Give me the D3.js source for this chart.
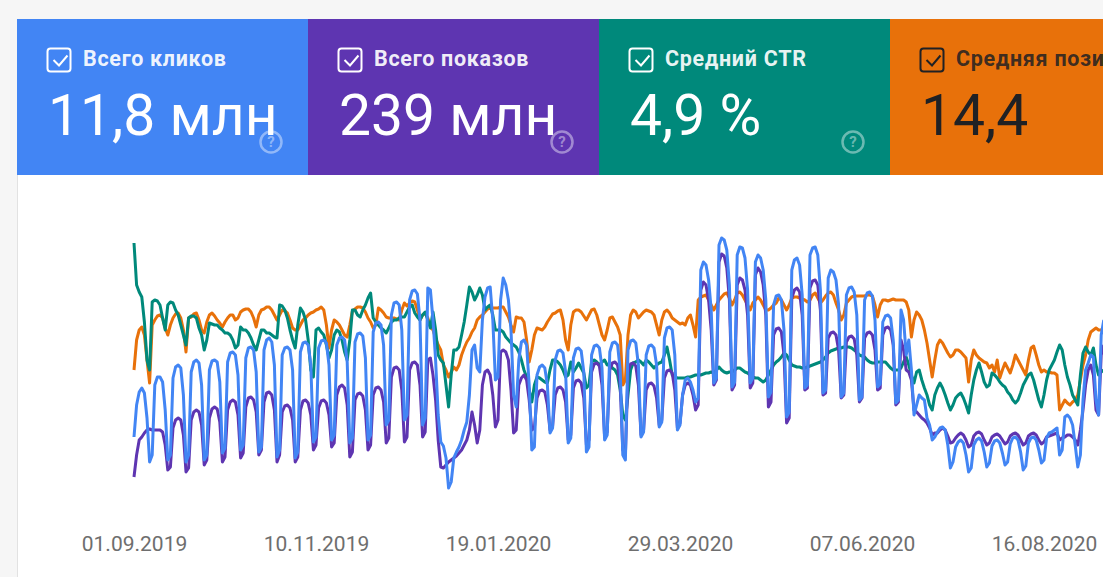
<!DOCTYPE html>
<html>
<head>
<meta charset="utf-8">
<script src="https://cdn.jsdelivr.net/npm/d3@7"></script>
<style>
    html, body { margin: 0; padding: 0; background: #f6f6f6; overflow: hidden; }
    svg { display: block; font-family: Roboto, "Noto Sans", sans-serif; }
</style>
</head>
<body>
<svg id="chart" width="1103" height="577"></svg>
<script>
// one value per day, starting 01.09.2019
var startDate = '2019-09-01';

// clicks, hundreds per day
var clicks = [283,
    315,328,332,327,302,258,265, 335,343,343,338,310,260,265, 342,353,355,352,325,258,265, 348,358,360,357,335,260,265,
    350,359,360,358,338,267,272, 358,367,368,365,345,270,275, 362,372,373,370,348,268,273, 370,380,382,378,355,263,270,
    365,372,373,370,350,262,268, 368,377,378,375,355,278,283, 372,379,380,377,355,280,285, 375,382,383,380,358,277,282,
    378,386,387,384,362,280,285, 388,397,398,395,375,295,300, 405,417,418,415,390,300,305, 420,429,430,426,400,295,302,
    432,430,400,360,305,278,274, 262,232,238,262,268,273,280, 290,298,325,370,375,352,348, 400,423,432,433,400,340,343,
    420,442,435,420,390,325,313, 360,378,380,375,335,270,273, 345,353,355,352,335,287,292, 360,369,370,367,348,277,282,
    362,371,372,369,348,268,273, 365,374,375,372,352,280,285, 368,377,378,375,350,265,260, 370,379,380,377,355,283,288,
    365,374,375,372,355,293,298, 382,392,393,390,365,290,295, 325,340,342,338,330,318,322, 450,458,455,440,410,337,342,
    475,482,480,470,435,333,338, 465,473,472,462,430,337,342, 458,465,462,450,420,323,328, 415,424,425,420,390,303,308,
    450,460,462,455,425,332,335, 465,472,473,465,430,327,330, 442,450,448,440,415,323,327, 425,432,433,428,405,320,323,
    420,427,428,424,400,333,336, 398,404,405,402,380,317,320, 410,400,365,380,350,305,315, 325,322,320,302,295,280,283,
    288,292,293,290,275,252,258, 273,278,280,277,265,248,252, 275,280,282,279,268,253,257, 274,279,280,277,267,255,258,
    276,282,283,280,268,250,254, 277,282,283,280,270,257,260, 282,287,288,290,292,265,270, 303,305,302,295,275,253,265,
    320,350,357,365,363,320,305, 385,400];

// impressions, thousands per day
var impressions = [579,
    601,616,619,623,626,627,626, 626,626,626,624,611,586,589, 628,636,638,636,621,584,588, 636,644,646,644,631,591,596,
    638,647,649,647,634,594,599, 646,654,656,654,641,598,603, 649,658,659,656,644,601,606, 654,663,664,661,646,594,601,
    644,650,651,648,636,594,599, 646,655,656,653,641,606,611, 648,655,656,653,641,609,613, 661,669,671,668,651,599,604,
    656,662,663,660,646,606,611, 661,668,669,666,654,613,618, 679,688,689,686,666,614,619, 686,693,694,691,671,619,624,
    696,698,681,656,616,589,588, 591,594,596,598,600,603,606, 611,616,626,644,631,613,626, 671,684,686,681,661,629,636,
    704,706,704,696,666,623,626, 671,678,681,676,656,626,628, 658,665,666,664,651,626,630, 661,668,669,666,654,616,621,
    668,675,676,673,658,611,616, 684,692,693,690,671,619,624, 686,693,694,691,671,606,601, 684,692,693,690,671,621,626,
    666,672,673,670,658,631,636, 678,685,686,683,666,628,633, 661,671,673,671,661,646,651, 766,774,771,756,726,671,676,
    794,802,800,788,756,666,671, 771,778,776,766,741,668,673, 781,788,784,771,741,649,654, 721,727,728,724,701,633,638,
    758,766,768,764,741,666,668, 768,775,776,771,746,661,663, 718,723,724,721,706,658,661, 714,719,720,717,701,654,658,
    718,723,724,721,706,666,668, 721,728,729,726,711,651,654, 716,706,686,684,676,646,644, 641,638,636,633,628,621,623,
    623,626,628,626,620,613,614, 618,621,623,621,616,609,611, 620,623,624,622,616,611,613, 619,621,622,620,616,612,614,
    620,622,623,621,616,611,613, 620,622,623,621,616,612,614, 619,620,621,622,623,616,618, 619,621,621,619,616,611,626,
    646,671,686,691,681,646,641, 701,711];

// CTR, %
var ctr = [7.14,
    6.30,6.16,6.06,5.56,4.80,4.60,5.96, 6.00,5.98,5.90,5.64,5.40,5.90,5.96, 5.94,5.80,5.70,5.50,5.30,5.10,5.64,
    5.68,5.68,5.64,5.44,5.30,5.00,5.20, 5.54,5.52,5.50,5.50,5.44,5.40,5.34, 5.34,5.30,5.20,5.04,5.10,5.46,5.40,
    5.40,5.34,5.24,5.10,5.00,5.20,5.40, 5.40,5.34,5.34,5.30,5.26,5.24,5.90, 5.88,5.80,5.64,5.40,5.20,5.04,5.50,
    5.84,5.76,5.60,5.20,4.60,4.46,5.40, 5.44,5.36,5.30,5.10,4.84,5.00,5.30, 5.40,5.36,5.20,4.96,4.80,5.20,5.80,
    5.80,5.70,5.66,5.80,5.90,6.04,6.14, 5.64,5.56,5.50,5.44,5.40,5.34,5.44, 5.56,5.60,5.60,5.64,5.66,5.66,5.76,
    5.86,5.90,5.74,5.66,5.60,5.70,5.76, 5.60,5.44,5.76,5.40,4.90,4.80,4.74, 4.30,3.86,4.50,5.00,5.00,5.06,5.30,
    5.56,5.90,6.26,6.16,6.00,6.10,6.24, 6.10,5.80,5.86,5.90,5.70,5.40,5.40, 5.40,5.36,5.26,5.20,5.14,5.10,5.06,
    4.96,4.80,4.60,4.46,4.20,3.96,4.30, 4.46,4.44,4.40,4.36,4.34,4.60,4.80, 4.80,4.76,4.70,4.60,4.46,4.50,4.76,
    4.56,4.64,4.74,4.64,4.54,4.24,4.30, 4.76,4.80,4.76,4.70,4.76,4.80,4.70, 4.70,4.64,4.60,4.50,4.20,3.70,3.60,
    4.10,4.60,4.74,4.76,4.80,4.76,4.70, 4.80,4.76,4.70,4.64,4.70,4.74,4.76, 4.90,5.06,4.80,4.50,4.46,4.44,4.44,
    4.44,4.44,4.46,4.46,4.48,4.50,4.50, 4.50,4.52,4.54,4.54,4.56,4.54,4.60, 4.66,4.60,4.56,4.54,4.56,4.56,4.60,
    4.64,4.64,4.60,4.56,4.54,4.50,4.46, 4.44,4.44,4.40,4.36,4.40,4.50,4.60, 4.70,4.76,4.80,4.86,4.94,4.90,4.80,
    4.70,4.68,4.66,4.66,4.64,4.64,4.66, 4.68,4.70,4.72,4.74,4.76,4.80,4.86, 4.94,4.98,5.00,5.02,5.04,5.04,5.06,
    5.06,5.06,5.04,5.00,4.96,4.90,4.88, 4.86,4.80,4.76,4.74,4.74,4.76,4.76, 4.76,4.76,4.70,4.64,4.60,4.60,4.60,
    4.64,4.76,4.86,4.70,4.50,4.34,4.56, 4.60,4.40,4.24,4.10,3.90,3.80,4.10, 4.24,4.34,4.24,4.10,3.94,3.80,3.90,
    4.04,4.10,4.14,4.04,3.90,3.74,4.10, 4.40,4.60,4.74,4.56,4.36,4.26,4.30, 4.54,4.50,4.44,4.36,4.30,4.26,4.16,
    4.10,4.00,3.94,4.00,4.14,4.30,4.40, 4.50,4.54,4.40,4.20,4.00,3.86,4.10, 4.40,4.60,4.70,4.80,4.96,5.10,5.00,
    4.70,4.46,4.30,4.10,4.00,3.90,4.50, 4.94,5.06,4.96,4.90,5.04,4.70,4.50, 4.56,4.60];

// average position
var position = [15.6,
    14.4,14.0,13.88,14.2,15.2,16.12,13.8, 13.6,13.44,13.4,13.52,13.92,14.2,13.8, 13.52,13.36,13.32,13.52,14.0,14.88,13.52,
    13.48,13.36,13.32,13.6,14.0,14.12,13.68, 13.4,13.32,13.44,13.6,13.72,13.88,13.68, 13.52,13.4,13.4,13.6,13.52,13.28,13.2,
    13.16,13.16,13.28,13.52,13.88,13.4,13.2, 13.16,13.08,13.08,13.2,13.4,13.6,13.4, 13.2,13.24,13.32,13.6,13.92,14.0,14.0,
    13.8,13.6,13.52,13.4,13.32,13.28,13.2, 13.16,13.08,13.2,13.8,14.72,14.0,13.6, 13.68,13.8,14.0,14.2,14.28,13.8,13.24,
    13.16,13.08,13.08,13.12,13.28,13.52,13.68, 13.92,13.8,13.12,13.2,13.32,13.48,13.52, 13.52,13.52,13.56,13.6,13.2,12.92,13.04,
    12.92,12.84,12.88,13.2,13.6,13.4,13.32, 13.52,13.88,14.0,14.32,14.6,14.8,15.4, 15.6,15.88,15.68,15.48,15.6,15.4,15.0,
    14.72,14.48,14.32,14.08,13.92,13.6,13.48, 13.4,13.28,13.16,13.12,13.12,13.12,13.12, 13.08,13.08,13.28,13.48,13.8,14.08,13.48,
    13.52,13.52,13.68,14.4,15.28,14.8,14.2, 13.92,13.96,14.0,13.88,13.68,13.52,13.36, 13.32,13.24,13.2,13.6,14.4,14.8,13.8,
    13.28,13.2,13.2,13.28,13.44,13.6,13.4, 13.2,13.16,13.4,13.8,14.2,14.4,14.0, 13.52,13.48,13.68,13.88,14.2,16.2,16.0,
    14.2,13.4,13.2,13.28,13.52,13.4,13.28, 13.2,13.24,13.28,13.4,13.8,14.2,13.6, 13.28,13.2,13.32,13.52,13.6,13.68,13.76,
    13.72,13.8,13.52,13.4,13.8,14.28,12.8, 12.68,12.64,12.6,12.8,13.0,13.2,13.0, 12.8,12.68,12.56,12.52,12.72,13.0,12.8,
    12.52,12.48,12.6,12.8,13.0,13.2,12.92, 12.8,12.68,12.8,13.0,13.2,13.2,13.12, 13.0,12.92,12.72,12.8,13.0,13.2,13.0,
    12.72,12.68,12.68,12.72,12.76,12.8,12.88, 12.8,12.6,12.52,12.72,12.92,12.8,12.64, 12.52,12.48,12.6,12.92,13.2,13.6,13.4,
    12.92,12.8,12.68,12.64,12.64,12.64,12.64, 12.64,12.6,12.6,12.64,13.0,13.48,13.0, 12.8,12.8,12.84,12.8,12.76,12.8,12.8,
    12.8,12.8,12.88,13.2,14.28,13.6,13.28, 13.4,13.6,14.0,14.52,15.2,15.88,15.2, 14.6,14.4,14.52,14.72,14.92,15.08,15.0,
    14.8,14.8,14.88,15.0,15.12,16.08,15.2, 14.8,15.0,15.12,15.2,15.28,15.32,15.52, 15.4,15.68,15.2,15.92,15.6,15.32,15.52,
    15.72,15.4,15.0,15.2,15.4,15.6,15.8, 15.2,14.72,14.64,15.0,15.4,15.68,15.6, 15.68,15.68,15.72,15.72,15.8,17.2,17.0,
    16.8,16.92,17.0,16.88,16.8,16.6,16.0, 15.4,15.0,14.4,14.08,14.0,13.92,14.0, 14.0,13.92];

var tickDates = ['2019-09-01', '2019-11-10', '2020-01-19', '2020-03-29', '2020-06-07', '2020-08-16'];

var metricLabels = ['Всего кликов', 'Всего показов', 'Средний CTR', 'Средняя позиция'];
var metricValues = ['11,8 млн', '239 млн', '4,9 %', '14,4'];
var metricColors = ['#4285f4', '#5e35b1', '#00897b', '#e8710a'];
var metricText = ['#ffffff', '#ffffff', '#ffffff', '#202124'];

var width = 1103, height = 577;
var plotTop = 230, plotBottom = 500;
var svg = d3.select('#chart');
var parseDate = d3.utcParse('%Y-%m-%d');
var start = parseDate(startDate);

// page + white panel
svg.append('rect').attr('width', width).attr('height', height).attr('fill', '#f6f6f6');
svg.append('rect')
    .attr('x', 17).attr('y', 19)
    .attr('width', width - 17).attr('height', height - 19)
    .attr('fill', '#ffffff');
svg.append('line')
    .attr('x1', 17.5).attr('x2', 17.5).attr('y1', 19).attr('y2', height)
    .attr('stroke', '#e2e2e2');

// metric cards
var cardScale = d3.scaleBand().domain(d3.range(4)).range([17, 17 + 4 * 291]);

var cards = svg.selectAll('.card').data(metricLabels).enter()
    .append('g')
    .classed('card', true)
    .attr('transform', function(d, i) { return 'translate(' + cardScale(i) + ',19)'; });

cards.append('rect')
    .attr('width', cardScale.bandwidth())
    .attr('height', 156)
    .attr('fill', function(d, i) { return metricColors[i]; });

cards.append('rect')
    .attr('x', 30.5).attr('y', 29.5)
    .attr('width', 23).attr('height', 23)
    .attr('rx', 3)
    .attr('fill', 'none')
    .attr('stroke', function(d, i) { return metricText[i]; })
    .attr('stroke-width', 2);

cards.append('path')
    .attr('d', 'M36.5,41 L42,46.5 L50.5,36.5')
    .attr('fill', 'none')
    .attr('stroke', function(d, i) { return metricText[i]; })
    .attr('stroke-width', 2);

// the last label runs past the right edge, as in the original screenshot
cards.append('text')
    .attr('x', 66).attr('y', 47)
    .attr('font-size', 21.5)
    .attr('font-weight', 700)
    .attr('letter-spacing', 0.7)
    .attr('fill', function(d, i) { return metricText[i]; })
    .attr('fill-opacity', function(d, i) { return i < 3 ? 0.93 : 0.87; })
    .text(function(d) { return d; });

cards.append('text')
    .attr('x', 31).attr('y', 116)
    .attr('font-size', 57)
    .attr('fill', function(d, i) { return metricText[i]; })
    .text(function(d, i) { return metricValues[i]; });

// help icons, partly over the value text as in the original
var help = cards.filter(function(d, i) { return i < 3; }).append('g')
    .attr('transform', 'translate(254,123)');
help.append('circle')
    .attr('r', 10.5)
    .attr('fill', 'none')
    .attr('stroke', 'rgba(255,255,255,0.42)')
    .attr('stroke-width', 2.5);
help.append('text')
    .attr('text-anchor', 'middle')
    .attr('dy', '0.36em')
    .attr('font-size', 15)
    .attr('font-weight', 700)
    .attr('fill', 'rgba(255,255,255,0.42)')
    .text('?');

// scales
var x = d3.scaleUtc()
    .domain([parseDate(tickDates[0]), parseDate(tickDates[5])])
    .range([134, 1044]);

var yClicks = d3.scaleLinear().domain([220, 490]).range([plotBottom, plotTop]);
var yImpr = d3.scaleLinear().domain([556, 826]).range([plotBottom, plotTop]);
var yCtr = d3.scaleLinear().domain([2, 7.4]).range([plotBottom, plotTop]);
var yPos = d3.scaleLinear().domain([10, 20.8]).range([plotTop, plotBottom]);

var series = [
    { values: position, y: yPos, color: metricColors[3] },
    { values: ctr, y: yCtr, color: metricColors[2] },
    { values: impressions, y: yImpr, color: metricColors[1] },
    { values: clicks, y: yClicks, color: metricColors[0] }
];

var lineLayer = svg.append('g');

series.forEach(function(s)
{
    var line = d3.line()
        .x(function(v, i) { return x(d3.utcDay.offset(start, i)); })
        .y(function(v) { return s.y(v); });

    lineLayer.append('path')
        .datum(s.values)
        .attr('d', line)
        .attr('fill', 'none')
        .attr('stroke', s.color)
        .attr('stroke-width', 3)
        .attr('stroke-linejoin', 'round');
});

// x axis
var axis = svg.append('g')
    .attr('transform', 'translate(0,536)')
    .call(d3.axisBottom(x)
        .tickValues(tickDates.map(parseDate))
        .tickFormat(d3.utcFormat('%d.%m.%Y'))
        .tickSize(0)
        .tickPadding(0));

axis.select('.domain').remove();
axis.attr('font-size', 21).attr('font-family', 'Roboto, "Noto Sans", sans-serif');
axis.selectAll('text').attr('fill', '#6e6e6e');
</script>
</body>
</html>
